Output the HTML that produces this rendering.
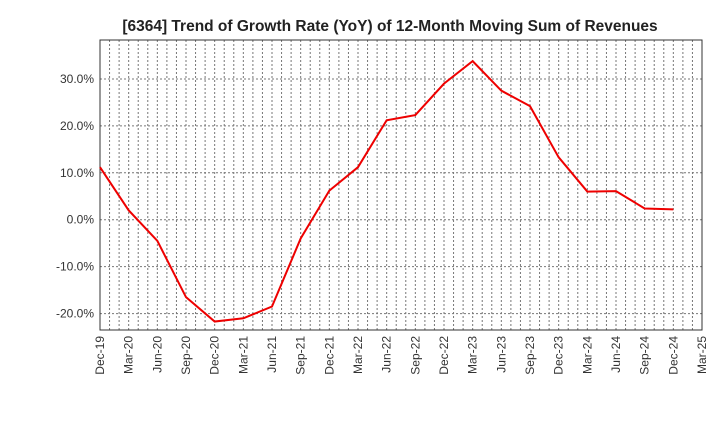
<!DOCTYPE html>
<html><head><meta charset="utf-8"><style>
body{margin:0;background:#fff;font-family:"Liberation Sans",sans-serif}
</style></head><body>
<svg id="c" width="720" height="440" xmlns="http://www.w3.org/2000/svg">
<text x="390" y="31" text-anchor="middle" font-size="15.5" font-weight="bold" fill="#222">[6364]  Trend of Growth Rate (YoY) of 12-Month Moving Sum of Revenues</text>
<g id="grid"></g><g id="axes"></g><g id="series"></g>
</svg>
<script>
const categories=["Dec-19","Mar-20","Jun-20","Sep-20","Dec-20","Mar-21","Jun-21","Sep-21","Dec-21","Mar-22","Jun-22","Sep-22","Dec-22","Mar-23","Jun-23","Sep-23","Dec-23","Mar-24","Jun-24","Sep-24","Dec-24","Mar-25"];
const values=[11.2,2.0,-4.5,-16.5,-21.7,-21.0,-18.5,-4.0,6.2,11.2,21.2,22.3,29.0,33.8,27.5,24.2,13.3,6.0,6.1,2.4,2.2];
const yTicks=[-20,-10,0,10,20,30];
const yTickLabels=["-20.0%","-10.0%","0.0%","10.0%","20.0%","30.0%"];
const L=100,R=702,T=40,B=330,yMin=-23.5,yMax=38.3;
const NS="http://www.w3.org/2000/svg";
const x=i=>L+(R-L)*i/(categories.length-1);
const y=v=>B-(v-yMin)/(yMax-yMin)*(B-T);
function mk(p,t,a){const e=document.createElementNS(NS,t);for(const k in a)e.setAttribute(k,a[k]);document.getElementById(p).appendChild(e);return e;}
const nm=(categories.length-1)*3;
for(let m=1;m<nm;m++){const xx=L+(R-L)*m/nm;const g=mk('grid','line',{x1:xx,x2:xx,y1:T,y2:B,stroke:'#777','stroke-dasharray':'2,2','stroke-width':1});

}
yTicks.forEach(v=>{const g=mk('grid','line',{x1:L,x2:R,y1:y(v),y2:y(v),stroke:'#777','stroke-dasharray':'2,2','stroke-width':1});

});
const fr=mk('axes','rect',{x:L,y:T,width:R-L,height:B-T,fill:'none',stroke:'#333'});


yTicks.forEach((v,i)=>{const t=mk('axes','text',{x:L-6,y:y(v)+4,'text-anchor':'end','font-size':12,fill:'#333'});t.textContent=yTickLabels[i];

});
categories.forEach((c,i)=>{const t=mk('axes','text',{x:0,y:0,'text-anchor':'end','font-size':12,fill:'#333',transform:`translate(${x(i)+4},${B+6}) rotate(-90)`});t.textContent=c;

});
const pl=mk('series','polyline',{points:values.map((v,i)=>x(i)+','+y(v)).join(' '),fill:'none',stroke:'#e00',"stroke-width":2});


</script>
</body></html>
